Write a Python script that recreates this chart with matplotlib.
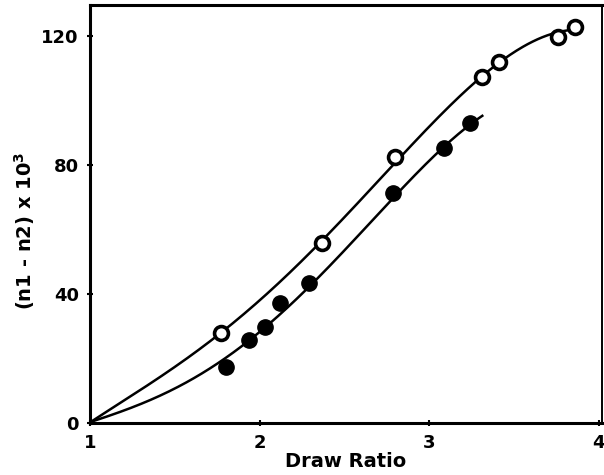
import numpy as np
import matplotlib
matplotlib.use("Agg")
import matplotlib.pyplot as plt

# Measured data points
open_x = [1.77, 2.37, 2.80, 3.31, 3.41, 3.76, 3.86]
open_y = [27.9, 55.8, 82.5, 107.3, 112.0, 119.7, 122.8]
filled_x = [1.80, 1.94, 2.03, 2.12, 2.29, 2.79, 3.09, 3.24]
filled_y = [17.4, 25.7, 29.8, 37.2, 43.4, 71.3, 85.3, 93.0]

# Points
curve_open_x = [1.0, 1.35, 1.77, 2.37, 2.80, 3.31, 3.41, 3.76, 3.86]
curve_open_y = [0.0, 12.4, 28.0, 55.5, 82.0, 107.5, 111.5, 120.0, 123.0]
curve_filled_x = [1.0, 1.35, 1.80, 1.94, 2.03, 2.29, 2.79, 3.09, 3.24, 3.32]
curve_filled_y = [0.0, 7.8, 19.5, 25.3, 29.5, 42.5, 71.0, 84.5, 92.0, 96.4]

x_ticks = [1, 2, 3, 4]
y_ticks = [0, 40, 80, 120]

plt.rcParams['font.family'] = ['DejaVu Sans']
plt.rcParams['font.weight'] = 'bold'

fig = plt.figure(figsize=(6.04, 4.75), dpi=100)
ax = fig.add_axes([0.149, 0.1095, 0.8477, 0.8795])

def smooth(xs, ys, deg, x0, x1):
    c = np.polyfit(xs, ys, deg)
    xx = np.linspace(x0, x1, 300)
    return xx, np.polyval(c, xx)

xo, yo = smooth(curve_open_x, curve_open_y, 4, curve_open_x[0], curve_open_x[-1])
xf, yf = smooth(curve_filled_x, curve_filled_y, 4, curve_filled_x[0], curve_filled_x[-1])
ax.plot(xo, yo, color='black', lw=1.8, solid_capstyle='butt')
ax.plot(xf, yf, color='black', lw=1.8, solid_capstyle='butt')

ax.plot(open_x, open_y, 'o', ms=10, mfc='white', mec='black', mew=2.6, zorder=3)
ax.plot(filled_x, filled_y, 'o', ms=11, mfc='black', mec='black', zorder=3)

ax.set_xlim(1, 4.02)
ax.set_ylim(0, 129.6)
ax.set_xticks(x_ticks)
ax.set_yticks(y_ticks)
ax.set_xticklabels([str(t) for t in x_ticks], fontsize=13, fontweight='bold')
ax.set_yticklabels([str(t) for t in y_ticks], fontsize=13, fontweight='bold')
ax.tick_params(direction='inout', length=4, width=1.5, pad=6)

for side in ['left', 'bottom', 'top']:
    ax.spines[side].set_linewidth(2.2)
ax.spines['right'].set_linewidth(1.4)

ax.set_xlabel('Draw Ratio', fontsize=14, fontweight='bold', labelpad=0)
ax.set_ylabel('(n1 - n2) x 10$^\\mathbf{3}$', fontsize=14, fontweight='bold')
ax.yaxis.set_label_coords(-0.103, 0.459)

fig.savefig('out.png', dpi=100)
